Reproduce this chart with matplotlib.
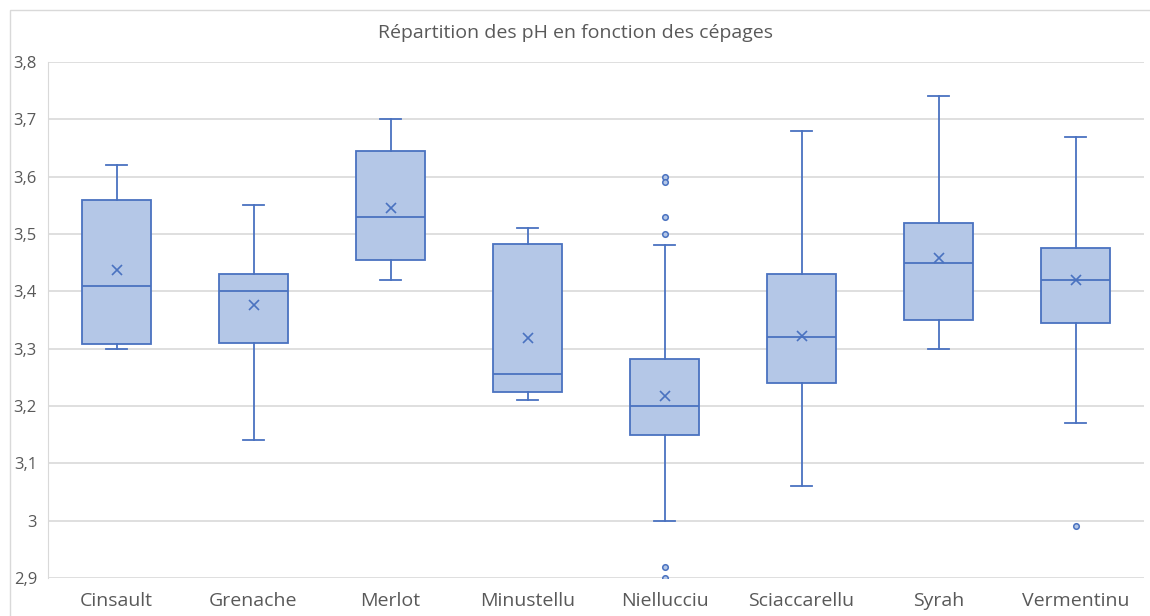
import numpy as np
import matplotlib.pyplot as plt
from matplotlib.patches import Rectangle

# pH statistics per grape variety
cepages = ['Cinsault', 'Grenache', 'Merlot', 'Minustellu', 'Niellucciu',
           'Sciaccarellu', 'Syrah', 'Vermentinu']
whislo = [3.30, 3.14, 3.42, 3.21, 3.00, 3.06, 3.30, 3.17]
q1 = [3.308, 3.31, 3.455, 3.225, 3.15, 3.24, 3.35, 3.345]
med = [3.41, 3.40, 3.53, 3.255, 3.20, 3.32, 3.45, 3.42]
q3 = [3.56, 3.43, 3.645, 3.483, 3.282, 3.43, 3.52, 3.475]
whishi = [3.62, 3.55, 3.70, 3.51, 3.48, 3.68, 3.74, 3.67]
moyennes = [3.438, 3.377, 3.546, 3.318, 3.218, 3.322, 3.458, 3.419]
fliers = [[], [], [], [], [3.60, 3.59, 3.53, 3.50, 2.92, 2.90], [], [], [2.99]]

blue = '#4a72c0'
fill = '#B4C7E7'
gray = '#595959'

plt.rcParams['font.family'] = ['Open Sans', 'DejaVu Sans']

stats = []
for i, name in enumerate(cepages):
    stats.append({'label': name, 'whislo': whislo[i], 'q1': q1[i], 'med': med[i],
                  'q3': q3[i], 'whishi': whishi[i], 'mean': moyennes[i],
                  'fliers': fliers[i]})

fig = plt.figure(figsize=(11.5, 6.16), dpi=100)
fig.patches.append(Rectangle((10 / 1150, -0.01), 1.0, 1 - 10 / 616 + 0.01,
                             transform=fig.transFigure, fill=False,
                             edgecolor='#D9D9D9', linewidth=1))
ax = fig.add_axes([48 / 1150, 1 - 578 / 616, 1096 / 1150, 516 / 616])

ax.bxp(stats, positions=np.arange(len(cepages)), widths=0.5, capwidths=0.15,
       patch_artist=True, showmeans=True,
       boxprops=dict(facecolor=fill, edgecolor=blue, linewidth=1.3),
       medianprops=dict(color=blue, linewidth=1.3),
       whiskerprops=dict(color=blue, linewidth=1.3),
       capprops=dict(color=blue, linewidth=1.3),
       meanprops=dict(marker='x', markeredgecolor=blue, markersize=7,
                      markeredgewidth=1.2),
       flierprops=dict(marker='o', markerfacecolor=fill, markeredgecolor=blue,
                       markersize=4, markeredgewidth=1.1),
       zorder=3)

ax.set_xlim(-0.5, len(cepages) - 0.5)
ax.set_ylim(2.9, 3.8)
yt = np.round(np.arange(2.9, 3.81, 0.1), 1)
ax.set_yticks(yt)
ax.set_yticklabels([('%g' % v).replace('.', ',') for v in yt])
ax.yaxis.grid(True, color='#D9D9D9', linewidth=1.2, zorder=0)
ax.set_axisbelow(True)
for s in ['top', 'right', 'bottom']:
    ax.spines[s].set_visible(False)
ax.spines['left'].set_color('#D9D9D9')
ax.tick_params(axis='both', length=0, colors=gray)
ax.tick_params(axis='x', labelsize=14, pad=10)
ax.tick_params(axis='y', labelsize=12, pad=8)

fig.text(0.5, 1 - 33 / 616, 'Répartition des pH en fonction des cépages',
         ha='center', va='center', fontsize=14, color=gray)

fig.savefig('out.png', dpi=100)
